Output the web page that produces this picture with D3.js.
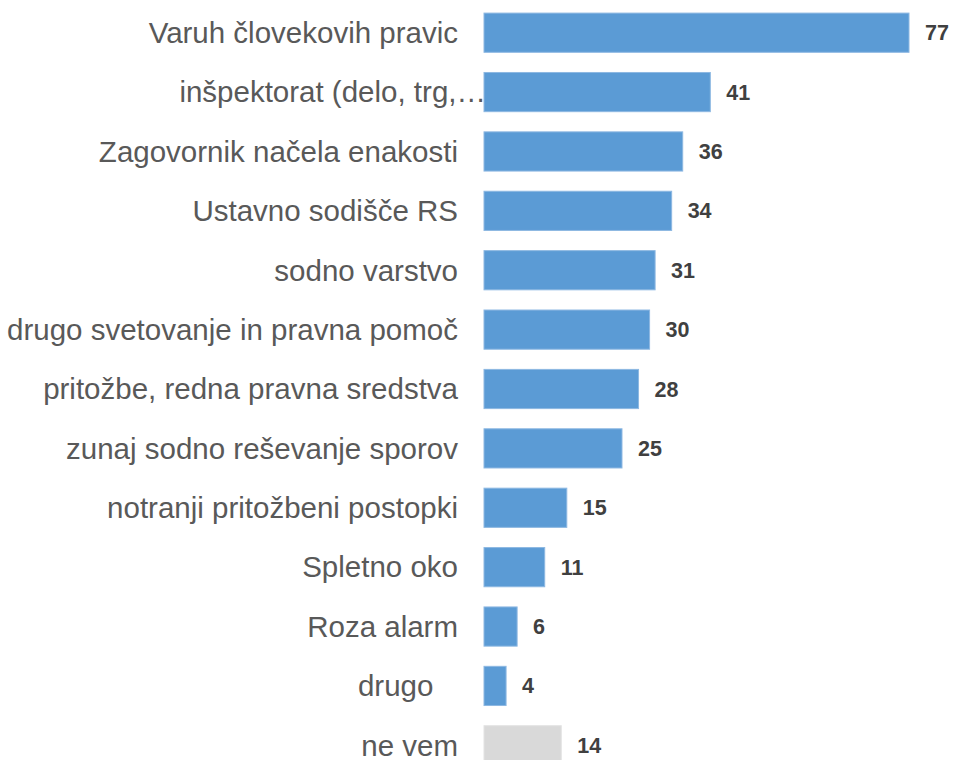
<!DOCTYPE html>
<html><head><meta charset="utf-8">
<script src="https://cdn.jsdelivr.net/npm/d3@7"></script>
<style>body{margin:0;background:#fff}svg{display:block}</style>
</head><body>
<script>
const categories = ["Varuh človekovih pravic","inšpektorat (delo, trg,…","Zagovornik načela enakosti","Ustavno sodišče RS","sodno varstvo","drugo svetovanje in pravna pomoč","pritožbe, redna pravna sredstva","zunaj sodno reševanje sporov","notranji pritožbeni postopki","Spletno oko","Roza alarm","drugo   ","ne vem"];
const values = [77,41,36,34,31,30,28,25,15,11,6,4,14];
const highlight = [false,false,false,false,false,false,false,false,false,false,false,false,true];

const W=954,H=760;
const svg=d3.select("body").append("svg").attr("width",W).attr("height",H);
const x=d3.scaleLinear().domain([0,77]).range([484,909]);
const y=d3.scaleBand().domain(categories).range([3,775]).paddingInner(0.34).paddingOuter(0.17);
const data=categories.map((c,i)=>({c,v:values[i],h:highlight[i]}));

svg.selectAll("rect.bar").data(data).join("rect")
 .attr("x",x(0)).attr("y",d=>y(d.c)).attr("width",d=>x(d.v)-x(0)).attr("height",y.bandwidth())
 .attr("fill",d=>d.h?"#D9D9D9":"#5B9BD5")
 .attr("stroke",d=>d.h?"#E3E3E3":"#8DB8E2").attr("stroke-width",1);

svg.selectAll("text.cat").data(data).join("text")
 .attr("x",d=>d.c.trim().endsWith("…")?486:458)
 .attr("y",d=>y(d.c)+y.bandwidth()/2).attr("dy","0.35em")
 .attr("text-anchor","end").style("white-space","pre")
 .attr("font-family","Liberation Sans, Arial, sans-serif").attr("font-size",29.5).attr("fill","#595959")
 .text(d=>d.c);

svg.selectAll("text.val").data(data).join("text")
 .attr("x",d=>x(d.v)+16).attr("y",d=>y(d.c)+y.bandwidth()/2).attr("dy","0.35em")
 .attr("font-family","Liberation Sans, Arial, sans-serif").attr("font-weight","bold").attr("font-size",21.5).attr("fill","#404040")
 .text(d=>d.v);
</script>
</body></html>
